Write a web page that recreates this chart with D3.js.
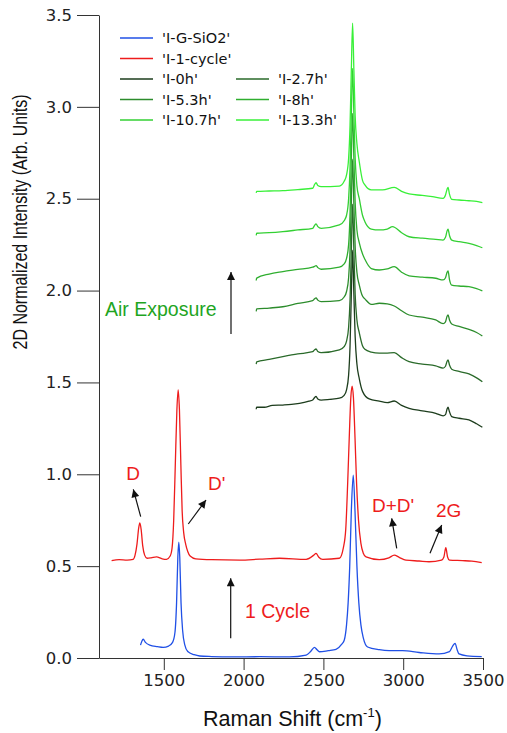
<!DOCTYPE html>
<html><head><meta charset="utf-8">
<script src="https://cdn.jsdelivr.net/npm/d3@7"></script>
<style>body{margin:0;background:#fff}svg{display:block}</style>
</head><body>
<svg id="c" width="507" height="733"></svg>
<script>
// ---- data (Raman shift cm-1, normalized intensity) ----
const xTicks = [1500, 2000, 2500, 3000, 3500];
const yTicks = [0, 0.5, 1.0, 1.5, 2.0, 2.5, 3.0, 3.5];

const sio2 = [[1354,0.07],[1362,0.09],[1371,0.102],[1385,0.085],[1412,0.07],[1460,0.062],[1496,0.058],[1530,0.065],[1555,0.085],[1570,0.14],[1580,0.3],[1588,0.55],[1594,0.63],[1600,0.55],[1608,0.3],[1618,0.15],[1632,0.07],[1650,0.035],[1690,0.018],[1725,0.011],[1800,0.008],[1931,0.006],[2100,0.007],[2287,0.006],[2392,0.016],[2420,0.035],[2444,0.058],[2460,0.045],[2475,0.034],[2530,0.04],[2579,0.047],[2615,0.075],[2631,0.098],[2645,0.18],[2655,0.3],[2665,0.5],[2675,0.8],[2687,0.995],[2698,0.8],[2710,0.5],[2722,0.3],[2735,0.18],[2750,0.11],[2777,0.06],[2850,0.045],[2912,0.04],[2996,0.04],[3100,0.03],[3225,0.022],[3290,0.035],[3310,0.065],[3325,0.08],[3338,0.045],[3350,0.022],[3400,0.012],[3492,0.008]];

const cycle1 = [[1173,0.53],[1220,0.535],[1270,0.533],[1308,0.537],[1320,0.56],[1332,0.62],[1343,0.71],[1350,0.735],[1358,0.7],[1368,0.61],[1380,0.56],[1395,0.543],[1420,0.545],[1454,0.55],[1490,0.54],[1517,0.537],[1540,0.555],[1552,0.6],[1562,0.75],[1572,1.05],[1582,1.35],[1590,1.46],[1598,1.35],[1607,1.05],[1615,0.8],[1625,0.68],[1637,0.62],[1650,0.58],[1665,0.555],[1700,0.54],[1800,0.535],[1975,0.533],[2100,0.538],[2225,0.543],[2392,0.537],[2440,0.56],[2454,0.57],[2470,0.55],[2496,0.537],[2600,0.543],[2625,0.6],[2640,0.7],[2652,0.95],[2662,1.2],[2672,1.42],[2680,1.48],[2688,1.42],[2698,1.2],[2708,0.95],[2720,0.75],[2735,0.624],[2750,0.57],[2767,0.55],[2850,0.535],[2910,0.545],[2944,0.56],[2975,0.548],[3017,0.533],[3100,0.528],[3162,0.524],[3240,0.533],[3255,0.55],[3267,0.6],[3278,0.55],[3290,0.533],[3371,0.53],[3430,0.527],[3492,0.519]];

const h0 = [[2079,1.354],[2081,1.365],[2130,1.365],[2180,1.375],[2246,1.377],[2300,1.38],[2350,1.386],[2410,1.398],[2433,1.404],[2445,1.418],[2454,1.424],[2465,1.41],[2486,1.404],[2540,1.408],[2600,1.414],[2630,1.43],[2645,1.46],[2658,1.54],[2667,1.7],[2675,1.98],[2683,2.22],[2691,1.98],[2699,1.75],[2710,1.6],[2725,1.52],[2746,1.45],[2787,1.41],[2850,1.398],[2900,1.39],[2944,1.399],[2990,1.375],[3037,1.359],[3120,1.345],[3204,1.332],[3250,1.318],[3265,1.325],[3275,1.355],[3281,1.365],[3290,1.34],[3304,1.314],[3350,1.305],[3412,1.296],[3460,1.275],[3496,1.256]];

const h2_7 = [[2079,1.6],[2082,1.612],[2160,1.625],[2246,1.64],[2340,1.655],[2433,1.667],[2445,1.678],[2454,1.682],[2465,1.668],[2486,1.662],[2600,1.677],[2630,1.695],[2645,1.725],[2658,1.8],[2667,1.95],[2675,2.22],[2683,2.47],[2691,2.22],[2699,1.98],[2710,1.84],[2725,1.77],[2745,1.7],[2760,1.68],[2800,1.665],[2850,1.659],[2900,1.66],[2944,1.662],[2990,1.635],[3037,1.613],[3120,1.6],[3204,1.59],[3250,1.578],[3265,1.588],[3275,1.615],[3281,1.622],[3290,1.595],[3304,1.572],[3350,1.56],[3412,1.546],[3460,1.525],[3496,1.504]];

const h5_3 = [[2079,1.887],[2082,1.9],[2160,1.905],[2246,1.912],[2340,1.93],[2433,1.945],[2445,1.955],[2454,1.96],[2465,1.948],[2486,1.94],[2600,1.945],[2630,1.965],[2645,1.995],[2658,2.07],[2667,2.22],[2675,2.48],[2683,2.715],[2691,2.47],[2699,2.24],[2710,2.1],[2725,2.03],[2745,1.97],[2760,1.955],[2800,1.925],[2850,1.931],[2900,1.928],[2944,1.916],[2990,1.89],[3037,1.867],[3120,1.855],[3204,1.84],[3250,1.82],[3265,1.83],[3275,1.86],[3281,1.867],[3290,1.84],[3304,1.818],[3350,1.805],[3412,1.789],[3460,1.772],[3496,1.753]];

const h8 = [[2079,2.055],[2082,2.068],[2160,2.09],[2246,2.103],[2340,2.115],[2433,2.127],[2445,2.132],[2454,2.136],[2465,2.125],[2486,2.116],[2600,2.127],[2630,2.145],[2645,2.175],[2658,2.25],[2667,2.42],[2675,2.72],[2683,2.965],[2691,2.72],[2699,2.48],[2710,2.33],[2725,2.26],[2745,2.2],[2760,2.17],[2800,2.12],[2850,2.112],[2900,2.118],[2944,2.13],[2990,2.1],[3037,2.08],[3120,2.073],[3204,2.067],[3250,2.058],[3265,2.07],[3275,2.1],[3281,2.107],[3290,2.06],[3304,2.03],[3350,2.025],[3412,2.021],[3460,2.01],[3496,1.998]];

const h10_7 = [[2079,2.3],[2082,2.312],[2160,2.315],[2246,2.321],[2340,2.33],[2433,2.339],[2445,2.355],[2454,2.363],[2465,2.348],[2486,2.339],[2600,2.357],[2630,2.38],[2645,2.41],[2658,2.5],[2667,2.67],[2675,2.96],[2683,3.21],[2691,2.96],[2699,2.72],[2710,2.57],[2725,2.5],[2745,2.41],[2760,2.375],[2800,2.335],[2850,2.33],[2900,2.335],[2933,2.348],[2990,2.315],[3037,2.293],[3120,2.285],[3204,2.279],[3250,2.275],[3265,2.29],[3275,2.325],[3281,2.334],[3290,2.3],[3304,2.275],[3350,2.266],[3412,2.257],[3460,2.245],[3496,2.233]];

const h13_3 = [[2079,2.532],[2082,2.54],[2160,2.542],[2246,2.544],[2340,2.55],[2433,2.557],[2445,2.578],[2454,2.587],[2465,2.572],[2486,2.566],[2600,2.569],[2630,2.595],[2645,2.63],[2658,2.72],[2667,2.9],[2675,3.2],[2683,3.455],[2691,3.2],[2699,2.95],[2710,2.8],[2725,2.7],[2745,2.6],[2760,2.575],[2800,2.548],[2871,2.548],[2944,2.562],[2990,2.54],[3037,2.526],[3120,2.518],[3183,2.511],[3250,2.502],[3265,2.52],[3275,2.552],[3281,2.562],[3290,2.525],[3304,2.497],[3350,2.493],[3412,2.489],[3460,2.485],[3496,2.479]];

const seriesNames = ["'I-G-SiO2'", "'I-1-cycle'", "'I-0h'", "'I-2.7h'", "'I-5.3h'", "'I-8h'", "'I-10.7h'", "'I-13.3h'"];
const seriesData = [sio2, cycle1, h0, h2_7, h5_3, h8, h10_7, h13_3];
const seriesColors = ["#2050e6", "#ee1c1c", "#1d3d1d", "#2a6a2a", "#2c8c2c", "#2fae2f", "#33d033", "#38f038"];

// ---- drawing ----
const svg = d3.select("#c");
const x = d3.scaleLinear().domain([1094, 3500]).range([99, 483]);
const y = d3.scaleLinear().domain([0, 3.5]).range([658, 15]);

const line = d3.line().x(d => x(d[0])).y(d => y(d[1])).curve(d3.curveMonotoneX);

const tickFont = "'DejaVu Sans', Verdana, sans-serif";
const titleFont = "'Liberation Sans', Arial, Helvetica, sans-serif";

// axes
const xAxis = svg.append("g").attr("transform", "translate(0,658)")
  .call(d3.axisBottom(x).tickValues(xTicks).tickFormat(d3.format("d")).tickSize(12).tickSizeOuter(0).tickPadding(4));
const yAxis = svg.append("g").attr("transform", "translate(99,0)")
  .call(d3.axisLeft(y).tickValues(yTicks).tickFormat(d3.format(".1f")).tickSize(22).tickSizeOuter(0).tickPadding(5));
[xAxis, yAxis].forEach(g => {
  g.selectAll("path,line").attr("stroke", "#333").attr("stroke-width", 1);
  g.selectAll("text").attr("fill", "#222").style("font-family", tickFont).style("font-size", "16.5px");
});

// series
seriesData.forEach((d, i) => {
  svg.append("path").datum(d).attr("d", line)
    .attr("fill", "none").attr("stroke", seriesColors[i]).attr("stroke-width", 1.3)
    .attr("stroke-linejoin", "round");
});

// legend
const legendPos = [[120,38],[120,58.5],[120,79],[236,79],[120,99.5],[236,99.5],[120,120],[236,120]];
seriesNames.forEach((n, i) => {
  const [lx, ly] = legendPos[i];
  svg.append("line").attr("x1", lx).attr("x2", lx + 33).attr("y1", ly).attr("y2", ly)
    .attr("stroke", seriesColors[i]).attr("stroke-width", 1.3);
  svg.append("text").attr("x", lx + 42).attr("y", ly + 5).text(n)
    .style("font-family", tickFont).style("font-size", "14.5px").attr("fill", "#111");
});

// arrow marker
svg.append("defs").append("marker").attr("id", "ah").attr("viewBox", "0 0 10 10")
  .attr("refX", 10).attr("refY", 5).attr("markerWidth", 10).attr("markerHeight", 8)
  .attr("markerUnits", "userSpaceOnUse").attr("orient", "auto")
  .append("path").attr("d", "M0,0 L10,5 L0,10 z").attr("fill", "#111");

const arrows = [
  [140.7, 516.7, 133.3, 489.3],
  [188.3, 524, 206, 500],
  [396.7, 548.3, 391.7, 518.3],
  [430, 553.3, 441.7, 525],
  [230.7, 638.3, 230.7, 578.3],
  [231, 334, 231, 272]
];
arrows.forEach(a => {
  svg.append("line").attr("x1", a[0]).attr("y1", a[1]).attr("x2", a[2]).attr("y2", a[3])
    .attr("stroke", "#111").attr("stroke-width", 1.2).attr("marker-end", "url(#ah)");
});

// annotations
const notes = [
  ["D", 133, 480, "middle", "#ee1c1c", 19],
  ["D'", 208, 490, "start", "#ee1c1c", 19],
  ["D+D'", 393, 512, "middle", "#ee1c1c", 19],
  ["2G", 436, 516.5, "start", "#ee1c1c", 19],
  ["1 Cycle", 245, 618, "start", "#ee1c1c", 19.5],
  ["Air Exposure", 105, 316, "start", "#1fa51f", 19.5]
];
notes.forEach(n => {
  svg.append("text").attr("x", n[1]).attr("y", n[2]).attr("text-anchor", n[3])
    .attr("fill", n[4]).style("font-family", titleFont).style("font-size", n[5] + "px").text(n[0]);
});

// axis titles
const xt = svg.append("text").attr("x", 203).attr("y", 726).attr("fill", "#111")
  .style("font-family", titleFont).style("font-size", "21.5px");
xt.append("tspan").text("Raman Shift (cm");
xt.append("tspan").attr("dy", -9).style("font-size", "13px").text("-1");
xt.append("tspan").attr("dy", 9).text(")");

svg.append("text").attr("transform", "translate(27,222) rotate(-90)").attr("text-anchor", "middle")
  .attr("fill", "#111").style("font-family", "'Liberation Sans Narrow', " + titleFont).style("font-size", "19.5px")
  .attr("textLength", 255).attr("lengthAdjust", "spacingAndGlyphs")
  .text("2D Normalized Intensity (Arb. Units)");
</script>
</body></html>
